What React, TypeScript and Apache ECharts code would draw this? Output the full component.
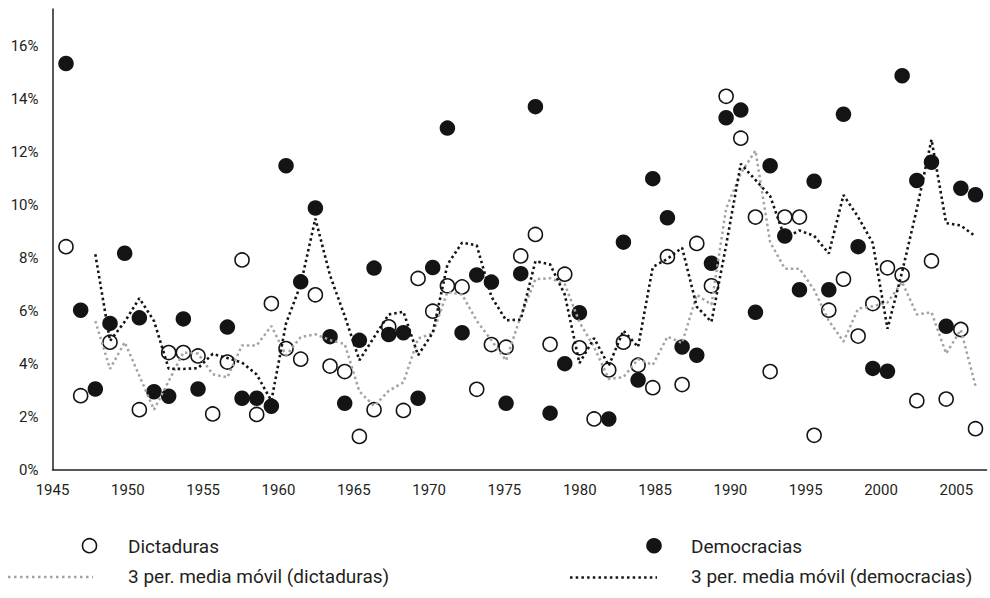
import React, { useEffect, useRef } from "react";
import * as echarts from "echarts";

const years = [
  1945, 1946, 1947, 1948, 1949, 1950, 1951, 1952, 1953, 1954,
  1955, 1956, 1957, 1958, 1959, 1960, 1961, 1962, 1963, 1964,
  1965, 1966, 1967, 1968, 1969, 1970, 1971, 1972, 1973, 1974,
  1975, 1976, 1977, 1978, 1979, 1980, 1981, 1982, 1983, 1984,
  1985, 1986, 1987, 1988, 1989, 1990, 1991, 1992, 1993, 1994,
  1995, 1996, 1997, 1998, 1999, 2000, 2001, 2002, 2003, 2004,
  2005, 2006, 2007,
];

const dictaduras: (number | null)[] = [
  8.42, 2.79, null, 4.81, null, 2.26, null, 4.42, 4.42, 4.29,
  2.10, 4.06, 7.92, 2.08, 6.27, 4.57, 4.17, 6.60, 3.91, 3.70,
  1.25, 2.26, 5.39, 2.23, 7.22, 5.98, 6.94, 6.90, 3.03, 4.72,
  4.62, 8.07, 8.88, 4.73, 7.38, 4.60, 1.91, 3.76, 4.81, 3.94,
  3.09, 8.04, 3.21, 8.54, 6.94, 14.10, 12.52, 9.54, 3.70, 9.54,
  9.54, 1.29, 6.02, 7.19, 5.04, 6.27, 7.62, 7.35, 2.60, 7.88,
  2.66, 5.29, 1.54,
];

const democracias: (number | null)[] = [
  15.34, 6.02, 3.04, 5.52, 8.17, 5.73, 2.94, 2.77, 5.69, 3.04,
  null, 5.38, 2.69, 2.69, 2.39, 11.48, 7.09, 9.88, 5.02, 2.50,
  4.88, 7.61, 5.10, 5.17, 2.69, 7.63, 12.90, 5.17, 7.35, 7.08,
  2.50, 7.40, 13.71, 2.13, 4.00, 5.92, null, 1.91, 8.59, 3.38,
  10.99, 9.51, 4.63, 4.32, 7.79, 13.29, 13.58, 5.94, 11.48, 8.82,
  6.79, 10.89, 6.79, 13.42, 8.42, 3.82, 3.71, 14.88, 10.92, 11.61,
  5.41, 10.63, 10.38,
];

const mediaDictaduras: (number | null)[] = [
  null, null, 5.61, 3.80, 4.81, 3.54, 2.26, 3.34, 4.42, 4.38,
  3.60, 3.48, 4.69, 4.69, 5.42, 4.31, 5.00, 5.11, 4.89, 4.74,
  2.95, 2.40, 2.97, 3.29, 4.95, 5.14, 6.71, 6.61, 5.62, 4.88,
  4.12, 5.80, 7.19, 7.23, 7.00, 5.57, 4.63, 3.42, 3.49, 4.17,
  3.95, 5.02, 4.78, 6.60, 6.23, 9.86, 11.19, 12.05, 8.59, 7.59,
  7.59, 6.79, 5.62, 4.83, 6.08, 6.17, 6.31, 7.08, 5.86, 5.94,
  4.38, 5.28, 3.16,
];

const mediaDemocracias: (number | null)[] = [
  null, null, 8.13, 4.86, 5.58, 6.47, 5.61, 3.81, 3.80, 3.83,
  4.37, 4.21, 4.04, 3.59, 2.59, 5.52, 6.99, 9.48, 7.33, 5.80,
  4.13, 5.00, 5.86, 5.96, 4.32, 5.16, 7.74, 8.57, 8.47, 6.53,
  5.64, 5.66, 7.87, 7.75, 6.61, 4.02, 4.96, 3.92, 5.25, 4.63,
  7.65, 7.96, 8.38, 6.15, 5.58, 8.47, 11.55, 10.94, 10.33, 8.75,
  9.03, 8.83, 8.16, 10.37, 9.54, 8.55, 5.32, 7.47, 9.84, 12.47,
  9.31, 9.22, 8.81,
];

const legendNames = [
  "Dictaduras",
  "Democracias",
  "3 per. media móvil (dictaduras)",
  "3 per. media móvil (democracias)",
];

const FONT = 'Roboto, "Liberation Sans", "DejaVu Sans", sans-serif';
const INK = "#231f20";
const DARK = "#141414";
const GREY = "#a3a3a3";

function pairs(arr: (number | null)[]) {
  return years
    .map((y, i) => [y, arr[i]])
    .filter((p) => p[1] !== null && p[1] !== undefined);
}

export default function App() {
  const ref = useRef<HTMLDivElement>(null);

  useEffect(() => {
    if (!ref.current) return;
    const chart = echarts.init(ref.current, null, { renderer: "svg" });

    chart.setOption({
      animation: false,
      backgroundColor: "#ffffff",
      textStyle: { fontFamily: FONT },
      grid: {
        left: 52.5,
        right: 3.5,
        top: 9,
        bottom: 128.5,
        containLabel: false,
        outerBoundsMode: "none",
      },
      xAxis: [
        {
          type: "value",
          min: 1945,
          max: 2007,
          interval: 5,
          axisLine: { show: true, onZero: false, lineStyle: { color: INK, width: 1.5 } },
          axisTick: { show: false },
          splitLine: { show: false },
          axisLabel: {
            margin: 13,
            color: INK,
            fontFamily: FONT,
            fontSize: 15,
            formatter: (v: number) => ((v - 1945) % 5 === 0 ? String(v) : ""),
          },
        },
        {
          type: "value",
          show: false,
          min: 1944.08,
          max: 2007.75,
        },
      ],
      yAxis: {
        type: "value",
        min: 0,
        max: 17.4,
        interval: 2,
        axisLine: { show: true, onZero: false, lineStyle: { color: INK, width: 1.5 } },
        axisTick: { show: false },
        splitLine: { show: false },
        axisLabel: {
          margin: 14,
          color: INK,
          fontFamily: FONT,
          fontSize: 15,
          formatter: (v: number) => (Math.abs(v % 2) < 1e-9 ? v + "%" : ""),
        },
      },
      series: [
        {
          name: legendNames[0],
          type: "scatter",
          xAxisIndex: 1,
          data: pairs(dictaduras),
          symbol: "circle",
          symbolSize: 14,
          itemStyle: { color: "#ffffff", borderColor: DARK, borderWidth: 1.6, opacity: 1 },
          z: 2,
        },
        {
          name: legendNames[1],
          type: "scatter",
          xAxisIndex: 1,
          data: pairs(democracias),
          symbol: "circle",
          symbolSize: 15.5,
          itemStyle: { color: DARK, opacity: 1 },
          z: 3,
        },
        {
          name: legendNames[2],
          type: "line",
          xAxisIndex: 1,
          data: pairs(mediaDictaduras),
          showSymbol: false,
          symbol: "none",
          lineStyle: { color: GREY, width: 2.5, type: [2.5, 3] },
          z: 4,
        },
        {
          name: legendNames[3],
          type: "line",
          xAxisIndex: 1,
          data: pairs(mediaDemocracias),
          showSymbol: false,
          symbol: "none",
          lineStyle: { color: DARK, width: 2.6, type: [2.5, 3] },
          z: 5,
        },
      ],
      graphic: [
        {
          type: "circle",
          shape: { cx: 89.5, cy: 545.7, r: 7 },
          style: { fill: "#ffffff", stroke: DARK, lineWidth: 1.6 },
        },
        {
          type: "text",
          x: 128,
          y: 546,
          style: {
            text: legendNames[0],
            fill: INK,
            font: `19px ${FONT}`,
            verticalAlign: "middle",
            align: "left",
          },
        },
        {
          type: "circle",
          shape: { cx: 654, cy: 545.7, r: 7.8 },
          style: { fill: DARK },
        },
        {
          type: "text",
          x: 691,
          y: 546,
          style: {
            text: legendNames[1],
            fill: INK,
            font: `19px ${FONT}`,
            verticalAlign: "middle",
            align: "left",
          },
        },
        {
          type: "line",
          shape: { x1: 8, y1: 577, x2: 93, y2: 577 },
          style: { stroke: GREY, lineWidth: 2.5, lineDash: [2.5, 3.5] },
        },
        {
          type: "text",
          x: 128,
          y: 576,
          style: {
            text: legendNames[2],
            fill: INK,
            font: `19px ${FONT}`,
            verticalAlign: "middle",
            align: "left",
          },
        },
        {
          type: "line",
          shape: { x1: 570, y1: 577.5, x2: 657, y2: 577.5 },
          style: { stroke: DARK, lineWidth: 2.5, lineDash: [2.5, 3.2] },
        },
        {
          type: "text",
          x: 691,
          y: 576,
          style: {
            text: legendNames[3],
            fill: INK,
            font: `19px ${FONT}`,
            verticalAlign: "middle",
            align: "left",
          },
        },
      ],
    });

    return () => chart.dispose();
  }, []);

  return (
    <div
      ref={ref}
      style={{ position: "fixed", left: 0, top: 0, width: 990, height: 598 }}
    />
  );
}
